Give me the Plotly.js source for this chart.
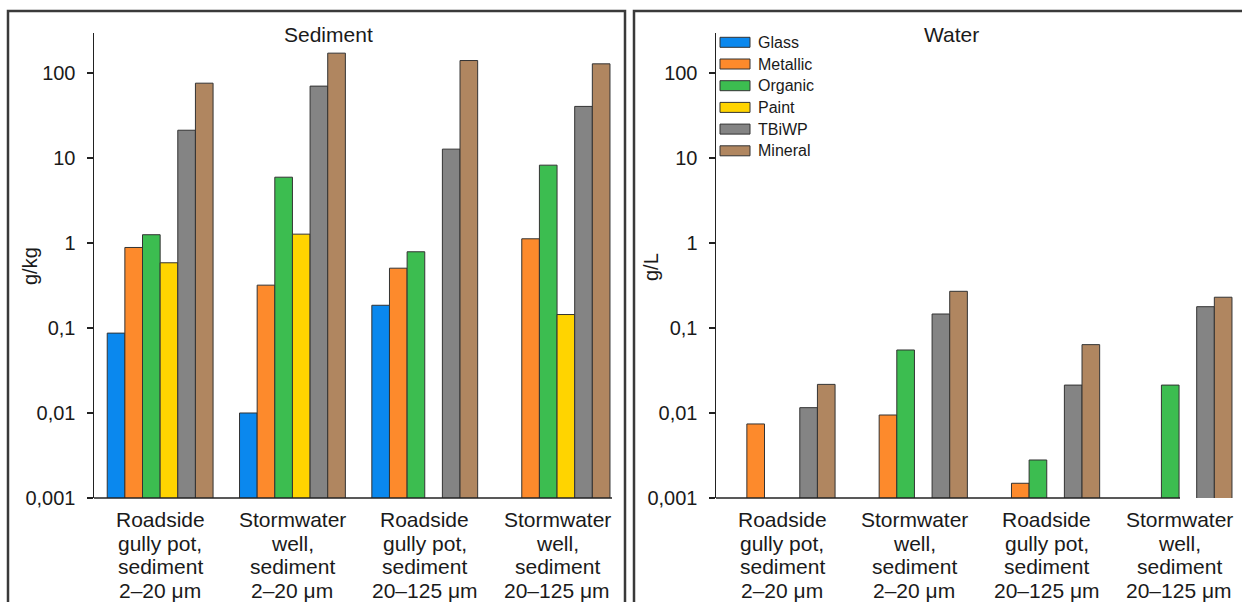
<!DOCTYPE html>
<html>
<head>
<meta charset="utf-8">
<script src="https://cdn.plot.ly/plotly-3.0.1.min.js"></script>
<style>html,body{margin:0;padding:0;background:#fff;}#chart{width:1242px;height:602px;}</style>
</head>
<body>
<div id="chart"></div>
<script>
// ---- data ----
const categoryLines = [
  ['Roadside', 'gully pot,', 'sediment', '2–20 μm'],
  ['Stormwater', 'well,', 'sediment', '2–20 μm'],
  ['Roadside', 'gully pot,', 'sediment', '20–125 μm'],
  ['Stormwater', 'well,', 'sediment', '20–125 μm']
];
const categories = categoryLines.map(l => l.join(' '));

const seriesNames = ['Glass', 'Metallic', 'Organic', 'Paint', 'TBiWP', 'Mineral'];
const seriesColors = ['#0a88ee', '#fd8a2c', '#3cbd50', '#ffd400', '#848484', '#b08660'];

// Sediment, g/kg
const glassSed    = [0.087, 0.010, 0.185, null];
const metallicSed = [0.885, 0.319, 0.505, 1.12];
const organicSed  = [1.25, 5.94, 0.788, 8.23];
const paintSed    = [0.585, 1.27, null, 0.144];
const tbiwpSed    = [21.2, 70, 12.7, 40.4];
const mineralSed  = [75.8, 171, 140, 128];

// Water, g/L
const glassWat    = [null, null, null, null];
const metallicWat = [0.00743, 0.00947, 0.00149, null];
const organicWat  = [null, 0.0551, 0.0028, 0.0213];
const paintWat    = [null, null, null, null];
const tbiwpWat    = [0.01155, 0.146, 0.0213, 0.178];
const mineralWat  = [0.0217, 0.27, 0.0637, 0.23];

const tickVals = [0.001, 0.01, 0.1, 1, 10, 100];
const tickText = ['0,001', '0,01', '0,1', '1', '10', '100'];

const sedimentSeries = [glassSed, metallicSed, organicSed, paintSed, tbiwpSed, mineralSed];
const waterSeries = [glassWat, metallicWat, organicWat, paintWat, tbiwpWat, mineralWat];

// ---- layout helpers (pixel -> paper) ----
const W = 1242, H = 602;
const px = x => x / W;
const py = y => 1 - y / H;
const step = 132.3;
const FONT = 'Liberation Sans, Arial, Helvetica, sans-serif';
const TXT = '#1a1a1a';

const traces = [];
seriesNames.forEach((name, i) => {
  traces.push({
    type: 'bar', name: name, x: categories, y: sedimentSeries[i],
    xaxis: 'x', yaxis: 'y',
    marker: {color: seriesColors[i], line: {color: '#333', width: 1}},
    showlegend: false, hoverinfo: 'skip'
  });
});
seriesNames.forEach((name, i) => {
  traces.push({
    type: 'bar', name: name, x: categories, y: waterSeries[i],
    xaxis: 'x2', yaxis: 'y2',
    marker: {color: seriesColors[i], line: {color: '#333', width: 1}},
    showlegend: false, hoverinfo: 'skip'
  });
});

function yAxis(anchor) {
  return {
    type: 'log', range: [-3, 2.47], domain: [py(498), py(33)], anchor: anchor,
    tickvals: tickVals, ticktext: tickText,
    ticks: 'outside', ticklen: 6, tickwidth: 1.2, tickcolor: '#222',
    showline: true, linecolor: '#222', linewidth: 1.5,
    showgrid: false, zeroline: false, fixedrange: true,
    tickfont: {family: FONT, size: 20, color: TXT},
    ticklabelstandoff: 7
  };
}
function xAxis(anchor, x0) {
  return {
    type: 'category', anchor: anchor, range: [-0.5, 3.45],
    domain: [px(x0), px(x0 + 3.95 * step)],
    showticklabels: false, ticks: '', showline: false, showgrid: false,
    zeroline: false, fixedrange: true
  };
}

const shapes = [
  // panel frames
  {type: 'rect', xref: 'paper', yref: 'paper', x0: px(8), x1: px(625), y0: py(640), y1: py(11),
   line: {color: '#3a3a3a', width: 2.5}, fillcolor: 'rgba(0,0,0,0)'},
  {type: 'rect', xref: 'paper', yref: 'paper', x0: px(634), x1: px(1280), y0: py(640), y1: py(11),
   line: {color: '#3a3a3a', width: 2.5}, fillcolor: 'rgba(0,0,0,0)'},
  // x axis base lines
  {type: 'line', xref: 'paper', yref: 'paper', x0: px(94), x1: px(612), y0: py(498), y1: py(498),
   line: {color: '#222', width: 1.5}},
  {type: 'line', xref: 'paper', yref: 'paper', x0: px(716), x1: px(1180), y0: py(498), y1: py(498),
   line: {color: '#222', width: 1.5}}
];

const annotations = [
  {text: 'Sediment', xref: 'paper', yref: 'paper', x: px(328), y: py(35), xanchor: 'center', yanchor: 'middle',
   showarrow: false, font: {family: FONT, size: 21, color: TXT}},
  {text: 'Water', xref: 'paper', yref: 'paper', x: px(951), y: py(35), xanchor: 'center', yanchor: 'middle',
   showarrow: false, font: {family: FONT, size: 21, color: TXT}},
  {text: 'g/kg', xref: 'paper', yref: 'paper', x: px(30), y: py(266), xanchor: 'center', yanchor: 'middle',
   textangle: -90, showarrow: false, font: {family: FONT, size: 20, color: TXT}},
  {text: 'g/L', xref: 'paper', yref: 'paper', x: px(651), y: py(267), xanchor: 'center', yanchor: 'middle',
   textangle: -90, showarrow: false, font: {family: FONT, size: 20, color: TXT}}
];

// category labels, one line per annotation, positioned on the category axes
['x', 'x2'].forEach(ax => {
  categoryLines.forEach((lines, ci) => {
    lines.forEach((line, li) => {
      annotations.push({
        text: line, xref: ax, yref: 'paper', x: categories[ci], y: py(519.5 + li * 23.7),
        xanchor: 'center', yanchor: 'middle', showarrow: false,
        font: {family: FONT, size: 21, color: TXT}
      });
    });
  });
});

// custom legend (water panel)
seriesNames.forEach((name, i) => {
  const cy = 42.3 + i * 21.7;
  shapes.push({type: 'rect', xref: 'paper', yref: 'paper', x0: px(720), x1: px(750), y0: py(cy + 5), y1: py(cy - 5),
    fillcolor: seriesColors[i], line: {color: '#333', width: 1}});
  annotations.push({text: name, xref: 'paper', yref: 'paper', x: px(756), y: py(cy), xanchor: 'left', yanchor: 'middle',
    showarrow: false, font: {family: FONT, size: 16, color: TXT}});
});

const layout = {
  width: W, height: H,
  margin: {l: 0, r: 0, t: 0, b: 0, pad: 0},
  paper_bgcolor: '#ffffff', plot_bgcolor: 'rgba(0,0,0,0)',
  font: {family: FONT, color: TXT},
  barmode: 'group', bargap: 0.2, bargroupgap: 0,
  showlegend: false,
  xaxis: xAxis('y', 94), yaxis: yAxis('x'),
  xaxis2: xAxis('y2', 716), yaxis2: yAxis('x2'),
  shapes: shapes, annotations: annotations
};

Plotly.newPlot('chart', traces, layout, {staticPlot: true, displayModeBar: false});
</script>
</body>
</html>
